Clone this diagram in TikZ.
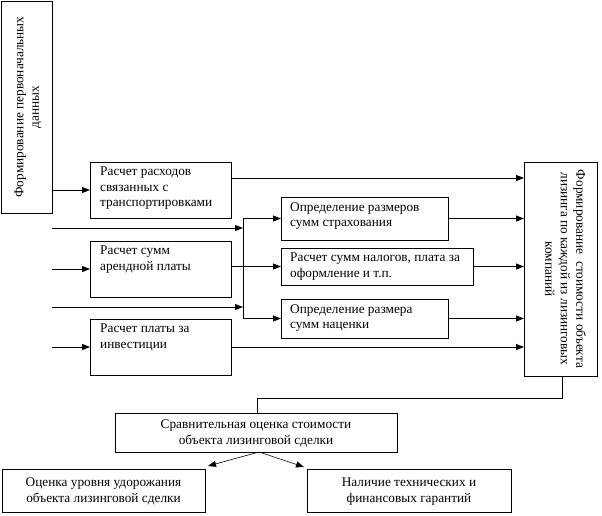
\documentclass[tikz,border=0pt]{standalone}
\usepackage{fontspec}
\setmainfont{Liberation Serif}
\usetikzlibrary{arrows.meta}
\begin{document}
\begin{tikzpicture}[x=1pt,y=-1pt,
  box/.style={draw, line width=0.9pt, anchor=north west, inner sep=0pt, outer sep=0pt},
  txt/.style={anchor=north west, inner sep=0pt, align=left, font=\fontsize{13.3}{15.5}\selectfont, execute at begin node=\strut},
  ctxt/.style={inner sep=0pt, align=center, font=\fontsize{13.3}{15.5}\selectfont},
  conn/.style={line width=0.9pt},
  arr/.style={conn, -{Triangle[length=8pt,width=6pt]}},
  thinarr/.style={line width=0.6pt, -{Triangle[length=8pt,width=6pt]}}]
\useasboundingbox (0,0) rectangle (602,515);

% boxes
\node[box, minimum width=51, minimum height=212] (A) at (1,1) {};
\node[box, minimum width=141, minimum height=56] (B) at (90,162) {};
\node[box, minimum width=141, minimum height=56] (C) at (90,241) {};
\node[box, minimum width=141, minimum height=56] (D) at (90,319) {};
\node[box, minimum width=167, minimum height=43] (E) at (281,197) {};
\node[box, minimum width=192, minimum height=37] (F) at (281,248) {};
\node[box, minimum width=167, minimum height=39] (G) at (281,299) {};
\node[box, minimum width=73, minimum height=214] (H) at (524,162) {};
\node[box, minimum width=282, minimum height=39] (I) at (115,413) {};
\node[box, minimum width=203, minimum height=43] (J) at (2,469) {};
\node[box, minimum width=204, minimum height=43] (K) at (307,469) {};

% texts
\node[ctxt, rotate=90] (tA) at ([xshift=1.5pt]A.center) {Формирование первоначальных\\данных};
\node[txt] (tB) at ([shift={(10pt,-5pt)}]B.north west) {Расчет расходов\\связанных с\\транспортировками};
\node[txt] (tC) at ([shift={(10pt,-5pt)}]C.north west) {Расчет сумм\\арендной платы};
\node[txt] (tD) at ([shift={(10pt,-5pt)}]D.north west) {Расчет платы за\\инвестиции};
\node[txt] (tE) at ([shift={(9pt,-5pt)}]E.north west) {Определение размеров\\сумм страхования};
\node[txt] (tF) at ([shift={(9pt,-5pt)}]F.north west) {Расчет сумм налогов, плата за\\оформление и т.п.};
\node[txt] (tG) at ([shift={(9pt,-5pt)}]G.north west) {Определение размера\\сумм наценки};
\node[ctxt, rotate=-90] (tH) at ([xshift=5pt]H.center) {Формирование\ \ стоимости объекта\\лизинга по каждой из лизинговых\\компаний};
\node[ctxt] (tI) at ([yshift=-1pt]I.center) {Сравнительная оценка стоимости\\объекта лизинговой сделки};
\node[ctxt] (tJ) at ([yshift=-1pt]J.center) {Оценка уровня удорожания\\объекта лизинговой сделки};
\node[ctxt] (tK) at ([yshift=-1pt]K.center) {Наличие технических и\\финансовых гарантий};

% free ends and junction
\coordinate (s1) at (52,228);
\coordinate (s2) at (52,307);
\coordinate (jt) at (243,218);
\coordinate (bout) at ([yshift=-16pt]B.north east);

% left inputs
\draw[arr] (A.east |- B.west) -- (B.west);
\draw[arr] (s1) -- (s1 -| jt);
\draw[arr] (C.west -| s1) -- (C.west);
\draw[arr] (s2) -- (s2 -| jt);
\draw[arr] (D.west -| s1) -- (D.west);

% junction to middle boxes
\draw[conn] (E.west -| jt) -- (G.west -| jt);
\draw[arr] (E.west -| jt) -- (E.west);
\draw[arr] (G.west -| jt) -- (G.west);
\draw[arr] (C.east |- F.west) -- (F.west);

% to right box
\draw[arr] (bout) -- (H.west |- bout);
\draw[arr] (E.east) -- (H.west |- E.east);
\draw[arr] (F.east) -- (H.west |- F.east);
\draw[arr] (G.east) -- (H.west |- G.east);
\draw[arr] (D.east) -- (H.west |- D.east);

% right box to comparison
\draw[conn] ([xshift=1.5pt]H.south) -- ++(0,22) -| ([xshift=1pt]I.north);

% comparison to results
\draw[thinarr] ([xshift=3pt]I.south) -- ([shift={(3pt,3pt)}]J.north east);
\draw[thinarr] ([xshift=3pt]I.south) -- ([shift={(-3pt,2pt)}]K.north west);
\end{tikzpicture}
\end{document}
